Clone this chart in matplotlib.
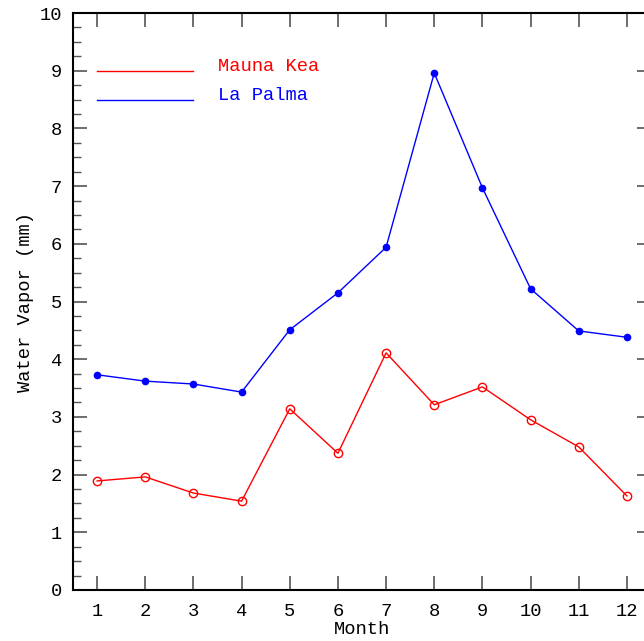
import matplotlib
matplotlib.use('Agg')
import matplotlib.pyplot as plt
from matplotlib.ticker import MultipleLocator

# Monthly water vapour (mm)
months = [1, 2, 3, 4, 5, 6, 7, 8, 9, 10, 11, 12]
mauna_kea = [1.89, 1.96, 1.68, 1.54, 3.14, 2.37, 4.11, 3.21, 3.52, 2.95, 2.48, 1.63]
la_palma = [3.73, 3.62, 3.57, 3.43, 4.51, 5.15, 5.94, 8.96, 6.97, 5.22, 4.49, 4.38]

plt.rcParams['font.family'] = ['Liberation Mono', 'DejaVu Sans Mono']
fs = 13.5

fig = plt.figure(figsize=(6.44, 6.41), dpi=100)
ax = fig.add_axes([73 / 644, 1 - 590 / 641, 578 / 644, 577 / 641])

ax.plot(months, mauna_kea, color='red', lw=1.0, marker='o', ms=6,
        mfc='none', mec='red', mew=1.0, clip_on=False)
ax.plot(months, la_palma, color='blue', lw=1.0, marker='o', ms=4.5,
        mfc='blue', mec='blue', clip_on=False)

# hand-drawn legend in data coords
ax.plot([1, 3], [9.0, 9.0], color='red', lw=1.0)
ax.plot([1, 3], [8.5, 8.5], color='blue', lw=1.0)
ax.text(3.5, 9.07, 'Mauna Kea', color='red', fontsize=fs, va='center')
ax.text(3.5, 8.57, 'La Palma', color='blue', fontsize=fs, va='center')

ax.set_xlim(0.5, 12.5)
ax.set_ylim(0, 10)
ax.xaxis.set_major_locator(MultipleLocator(1))
ax.yaxis.set_major_locator(MultipleLocator(1))
ax.yaxis.set_minor_locator(MultipleLocator(0.25))
ax.tick_params(axis='both', which='both', direction='in', top=True, right=True,
               labelsize=fs, color='#555555')
ax.tick_params(which='major', length=10, width=1.2)
ax.tick_params(which='minor', length=6, width=1.0, right=False)
ax.tick_params(axis='x', pad=9)
ax.tick_params(axis='y', pad=8)
for s in ax.spines.values():
    s.set_linewidth(1.5)

ax.set_xlabel('Month', fontsize=fs, labelpad=1)
ax.set_ylabel('Water Vapor (mm)', fontsize=fs, labelpad=4)

fig.savefig('out.png', dpi=100)
